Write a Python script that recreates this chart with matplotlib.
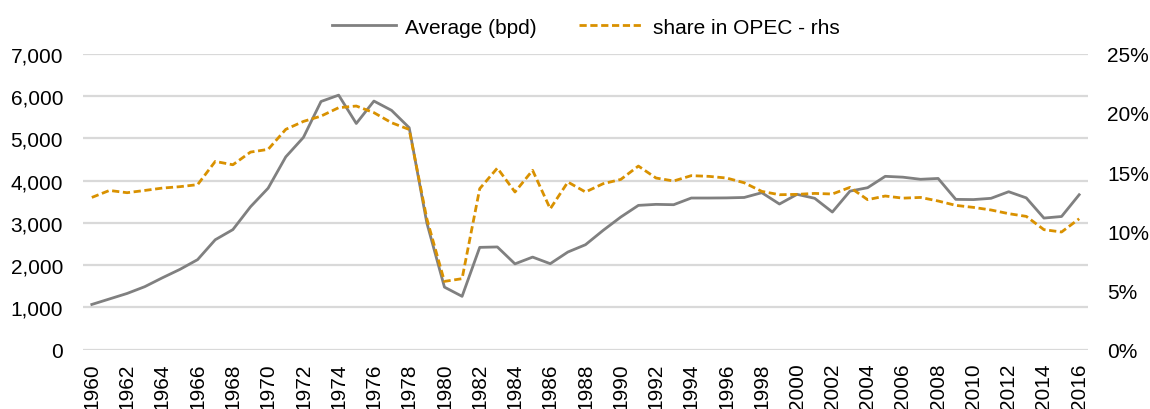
import numpy as np
import matplotlib.pyplot as plt
from matplotlib.ticker import FuncFormatter, MultipleLocator

plt.rcParams['font.family'] = ['Liberation Sans', 'DejaVu Sans']

years = list(range(1960, 2017))

# Average production (bpd), left axis
average_bpd = [1070, 1200, 1330, 1490, 1700, 1900, 2130, 2600, 2840, 3380,
               3820, 4560, 5020, 5870, 6020, 5350, 5880, 5660, 5250, 3000,
               1480, 1262, 2420, 2430, 2030, 2190, 2034, 2310, 2483, 2822,
               3137, 3413, 3437, 3429, 3587, 3587, 3590, 3600, 3713, 3445,
               3674, 3580, 3255, 3750, 3831, 4100, 4080, 4030, 4050, 3555,
               3550, 3580, 3736, 3590, 3113, 3150, 3665]

# Share in OPEC (%), right axis
share_opec = [12.86, 13.45, 13.26, 13.45, 13.65, 13.77, 13.94, 15.9, 15.62, 16.69,
              16.92, 18.61, 19.28, 19.73, 20.44, 20.58, 20.02, 19.17, 18.6, 11.06,
              5.77, 6.0, 13.6, 15.34, 13.32, 15.15, 11.9, 14.16, 13.32, 14.02,
              14.38, 15.51, 14.5, 14.25, 14.7, 14.64, 14.5, 14.1, 13.37, 13.09,
              13.12, 13.2, 13.15, 13.71, 12.67, 12.98, 12.8, 12.86, 12.56, 12.19,
              12.02, 11.8, 11.49, 11.26, 10.14, 9.94, 11.06]

fs = 15
fig = plt.figure(figsize=(11.5, 4.1), dpi=100)
ax = fig.add_axes([83 / 1150, 1 - 350.7 / 410, (1088 - 83) / 1150, (350.7 - 54.7) / 410])
ax2 = ax.twinx()

l1, = ax.plot(years, average_bpd, color='#808080', lw=2.0, label='Average (bpd)', zorder=3)
l2, = ax2.plot(years, [v / 100 for v in share_opec], color='#d99100', lw=2.0,
               dashes=(2.6, 1.3), label='share in OPEC - rhs')

ax.set_xlim(1959.5, 2016.5)
ax.set_ylim(0, 7000)
ax2.set_ylim(0, 0.25)
ax.yaxis.set_major_locator(MultipleLocator(1000))
ax2.yaxis.set_major_locator(MultipleLocator(0.05))
ax.yaxis.set_major_formatter(FuncFormatter(lambda v, p: f'{v:,.0f}'))
ax2.yaxis.set_major_formatter(FuncFormatter(lambda v, p: f'{v * 100:.0f}%'))
ax.set_xticks(years[::2])
ax.set_xticklabels([str(y) for y in years[::2]], rotation=90)

ax.grid(axis='y', color='#d9d9d9', lw=1.6)
ax.set_axisbelow(True)
for a in (ax, ax2):
    for s in a.spines.values():
        s.set_visible(False)
    a.tick_params(length=0, labelsize=fs, colors='black')
ax.tick_params(axis='y', pad=14.4)
ax2.tick_params(axis='y', pad=13.7)
ax.tick_params(axis='x', pad=9)

fig.legend(handles=[l1, l2], loc='center', bbox_to_anchor=(585.5 / 1150, 1 - 28 / 410),
           ncol=2, frameon=False, fontsize=fs, handlelength=3.1, handletextpad=0.45,
           columnspacing=2.0)

fig.savefig('out.png', dpi=100)
